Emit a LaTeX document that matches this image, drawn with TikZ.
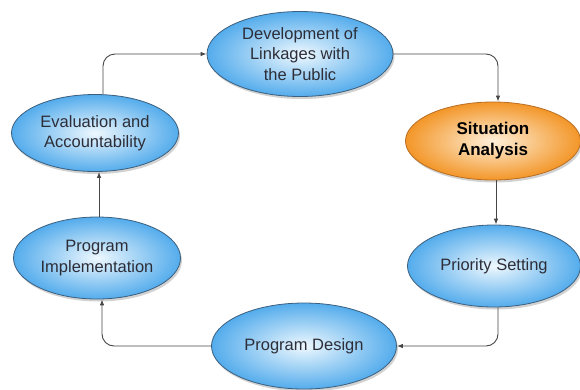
\documentclass[tikz,border=0pt]{standalone}
\usepackage{fontspec}
\setmainfont{Liberation Sans}
\usetikzlibrary{shapes.geometric,shadows,arrows.meta}
\definecolor{bubin}{RGB}{238,248,254}
\definecolor{bubout}{RGB}{84,172,236}
\definecolor{bubedge}{RGB}{60,95,125}
\definecolor{orin}{RGB}{254,240,218}
\definecolor{orout}{RGB}{243,150,40}
\definecolor{oredge}{RGB}{185,110,35}
\definecolor{txt}{RGB}{45,45,55}
\definecolor{conncol}{RGB}{70,70,70}
\begin{document}
\begin{tikzpicture}[x=1pt,y=-1pt,
  bub/.style={ellipse, inner sep=0pt, draw=bubedge, line width=0.8pt,
    inner color=bubin, outer color=bubout, text=txt, align=center,
    font=\fontsize{16.5}{20.5}\selectfont,
    drop shadow={shadow xshift=1.5pt, shadow yshift=-2.5pt, opacity=0.35}},
  orbub/.style={bub, draw=oredge, inner color=orin, outer color=orout,
    font=\fontsize{17}{21}\selectfont\bfseries, text=black},
  conn/.style={draw=conncol, line width=0.9pt, rounded corners=12pt,
    -{Latex[length=6pt,width=4.5pt]}}]
\useasboundingbox[fill=white] (0,0) rectangle (580,389);
\node[bub, minimum width=186pt, minimum height=85pt] (dev) at (300,54)
  {Development of\\Linkages with\\the Public};
\node[orbub, minimum width=175pt, minimum height=78pt] (sit) at (493,141)
  {Situation\\Analysis};
\node[bub, minimum width=173pt, minimum height=82pt] (pri) at (494,266)
  {Priority Setting};
\node[bub, minimum width=185pt, minimum height=86pt] (des) at (304,346)
  {Program Design};
\node[bub, minimum width=167pt, minimum height=82pt] (impl) at (97,258)
  {Program\\Implementation};
\node[bub, minimum width=167pt, minimum height=77pt] (eval) at (95,133)
  {Evaluation and\\Accountability};
\draw[conn] ([xshift=8pt]eval.north) |- (dev.west);
\draw[conn] (dev.east) -| ([xshift=5pt]sit.north);
\draw[conn] ([xshift=3pt]sit.south) -- ([xshift=2pt]pri.north);
\draw[conn] ([xshift=4pt]pri.south) |- (des.east);
\draw[conn] (des.west) -| ([xshift=5pt]impl.south);
\draw[conn] ([xshift=2pt]impl.north) -- ([xshift=4pt]eval.south);
\end{tikzpicture}
\end{document}
